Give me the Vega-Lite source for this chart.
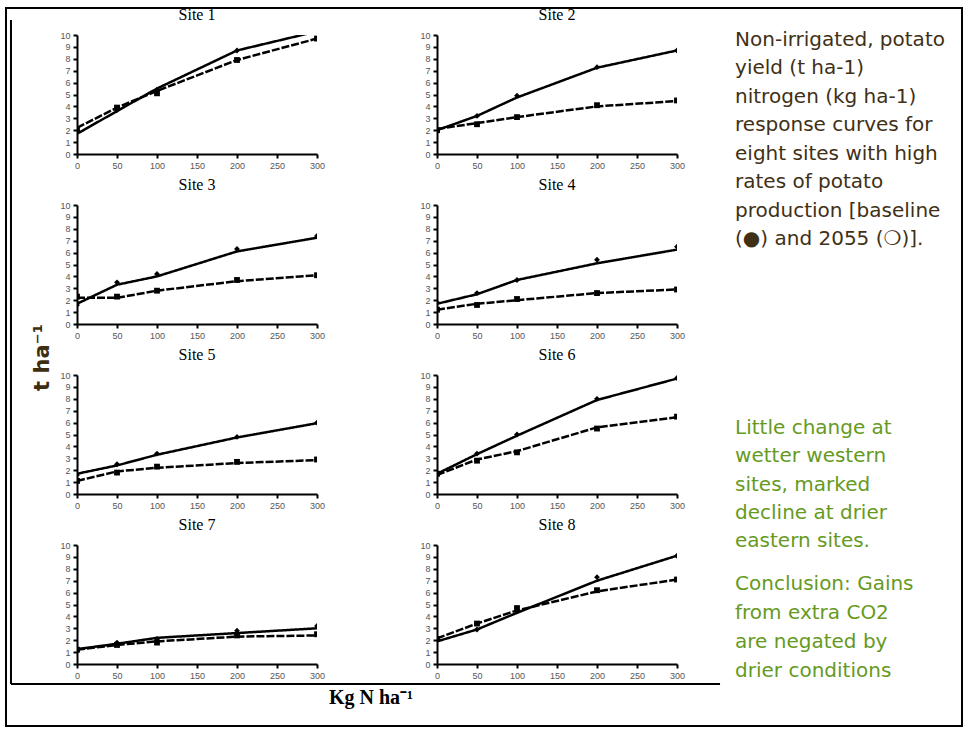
{
  "$schema": "https://vega.github.io/schema/vega-lite/v6.json",
  "padding": {"left": 5, "top": 7, "right": 5, "bottom": 4},
  "background": "white",
  "datasets": {
    "yield": [
      {"site": "Site 1", "scenario": "baseline", "n": 0, "fit": 1.7, "obs": 1.9},
      {"site": "Site 1", "scenario": "baseline", "n": 50, "fit": 3.6, "obs": 3.7},
      {"site": "Site 1", "scenario": "baseline", "n": 100, "fit": 5.5, "obs": 5.4},
      {"site": "Site 1", "scenario": "baseline", "n": 200, "fit": 8.7, "obs": 8.7},
      {"site": "Site 1", "scenario": "baseline", "n": 300, "fit": 10.3, "obs": 10.5},
      {"site": "Site 1", "scenario": "2055", "n": 0, "fit": 2.2, "obs": 2.1},
      {"site": "Site 1", "scenario": "2055", "n": 50, "fit": 3.9, "obs": 3.9},
      {"site": "Site 1", "scenario": "2055", "n": 100, "fit": 5.3, "obs": 5.1},
      {"site": "Site 1", "scenario": "2055", "n": 200, "fit": 7.9, "obs": 7.9},
      {"site": "Site 1", "scenario": "2055", "n": 300, "fit": 9.7, "obs": 9.7},
      {"site": "Site 2", "scenario": "baseline", "n": 0, "fit": 2.0, "obs": 1.9},
      {"site": "Site 2", "scenario": "baseline", "n": 50, "fit": 3.2, "obs": 3.2},
      {"site": "Site 2", "scenario": "baseline", "n": 100, "fit": 4.75, "obs": 4.9},
      {"site": "Site 2", "scenario": "baseline", "n": 200, "fit": 7.25, "obs": 7.3},
      {"site": "Site 2", "scenario": "baseline", "n": 300, "fit": 8.7, "obs": 8.7},
      {"site": "Site 2", "scenario": "2055", "n": 0, "fit": 2.1, "obs": 2.0},
      {"site": "Site 2", "scenario": "2055", "n": 50, "fit": 2.6, "obs": 2.5},
      {"site": "Site 2", "scenario": "2055", "n": 100, "fit": 3.1, "obs": 3.1},
      {"site": "Site 2", "scenario": "2055", "n": 200, "fit": 4.0, "obs": 4.1},
      {"site": "Site 2", "scenario": "2055", "n": 300, "fit": 4.45, "obs": 4.5},
      {"site": "Site 3", "scenario": "baseline", "n": 0, "fit": 1.7, "obs": 1.6},
      {"site": "Site 3", "scenario": "baseline", "n": 50, "fit": 3.3, "obs": 3.5},
      {"site": "Site 3", "scenario": "baseline", "n": 100, "fit": 4.0, "obs": 4.2},
      {"site": "Site 3", "scenario": "baseline", "n": 200, "fit": 6.1, "obs": 6.3},
      {"site": "Site 3", "scenario": "baseline", "n": 300, "fit": 7.25, "obs": 7.4},
      {"site": "Site 3", "scenario": "2055", "n": 0, "fit": 2.2, "obs": 2.3},
      {"site": "Site 3", "scenario": "2055", "n": 50, "fit": 2.2, "obs": 2.3},
      {"site": "Site 3", "scenario": "2055", "n": 100, "fit": 2.8, "obs": 2.8},
      {"site": "Site 3", "scenario": "2055", "n": 200, "fit": 3.6, "obs": 3.7},
      {"site": "Site 3", "scenario": "2055", "n": 300, "fit": 4.1, "obs": 4.1},
      {"site": "Site 4", "scenario": "baseline", "n": 0, "fit": 1.7, "obs": 1.8},
      {"site": "Site 4", "scenario": "baseline", "n": 50, "fit": 2.5, "obs": 2.6},
      {"site": "Site 4", "scenario": "baseline", "n": 100, "fit": 3.7, "obs": 3.7},
      {"site": "Site 4", "scenario": "baseline", "n": 200, "fit": 5.1, "obs": 5.4},
      {"site": "Site 4", "scenario": "baseline", "n": 300, "fit": 6.25, "obs": 6.5},
      {"site": "Site 4", "scenario": "2055", "n": 0, "fit": 1.2, "obs": 1.2},
      {"site": "Site 4", "scenario": "2055", "n": 50, "fit": 1.7, "obs": 1.6},
      {"site": "Site 4", "scenario": "2055", "n": 100, "fit": 2.0, "obs": 2.1},
      {"site": "Site 4", "scenario": "2055", "n": 200, "fit": 2.6, "obs": 2.6},
      {"site": "Site 4", "scenario": "2055", "n": 300, "fit": 2.9, "obs": 2.9},
      {"site": "Site 5", "scenario": "baseline", "n": 0, "fit": 1.7, "obs": 1.6},
      {"site": "Site 5", "scenario": "baseline", "n": 50, "fit": 2.4, "obs": 2.5},
      {"site": "Site 5", "scenario": "baseline", "n": 100, "fit": 3.3, "obs": 3.4},
      {"site": "Site 5", "scenario": "baseline", "n": 200, "fit": 4.75, "obs": 4.8},
      {"site": "Site 5", "scenario": "baseline", "n": 300, "fit": 5.95, "obs": 6.0},
      {"site": "Site 5", "scenario": "2055", "n": 0, "fit": 1.1, "obs": 1.1},
      {"site": "Site 5", "scenario": "2055", "n": 50, "fit": 1.9, "obs": 1.8},
      {"site": "Site 5", "scenario": "2055", "n": 100, "fit": 2.2, "obs": 2.3},
      {"site": "Site 5", "scenario": "2055", "n": 200, "fit": 2.6, "obs": 2.7},
      {"site": "Site 5", "scenario": "2055", "n": 300, "fit": 2.85, "obs": 2.9},
      {"site": "Site 6", "scenario": "baseline", "n": 0, "fit": 1.7, "obs": 1.8},
      {"site": "Site 6", "scenario": "baseline", "n": 50, "fit": 3.35, "obs": 3.4},
      {"site": "Site 6", "scenario": "baseline", "n": 100, "fit": 4.9, "obs": 5.0},
      {"site": "Site 6", "scenario": "baseline", "n": 200, "fit": 7.9, "obs": 8.0},
      {"site": "Site 6", "scenario": "baseline", "n": 300, "fit": 9.7, "obs": 9.75},
      {"site": "Site 6", "scenario": "2055", "n": 0, "fit": 1.6, "obs": 1.7},
      {"site": "Site 6", "scenario": "2055", "n": 50, "fit": 2.9, "obs": 2.8},
      {"site": "Site 6", "scenario": "2055", "n": 100, "fit": 3.6, "obs": 3.5},
      {"site": "Site 6", "scenario": "2055", "n": 200, "fit": 5.6, "obs": 5.5},
      {"site": "Site 6", "scenario": "2055", "n": 300, "fit": 6.45, "obs": 6.5},
      {"site": "Site 7", "scenario": "baseline", "n": 0, "fit": 1.25, "obs": 1.1},
      {"site": "Site 7", "scenario": "baseline", "n": 50, "fit": 1.7, "obs": 1.8},
      {"site": "Site 7", "scenario": "baseline", "n": 100, "fit": 2.2, "obs": 2.1},
      {"site": "Site 7", "scenario": "baseline", "n": 200, "fit": 2.6, "obs": 2.8},
      {"site": "Site 7", "scenario": "baseline", "n": 300, "fit": 3.0, "obs": 3.2},
      {"site": "Site 7", "scenario": "2055", "n": 0, "fit": 1.2, "obs": 1.2},
      {"site": "Site 7", "scenario": "2055", "n": 50, "fit": 1.6, "obs": 1.6},
      {"site": "Site 7", "scenario": "2055", "n": 100, "fit": 1.9, "obs": 1.8},
      {"site": "Site 7", "scenario": "2055", "n": 200, "fit": 2.3, "obs": 2.4},
      {"site": "Site 7", "scenario": "2055", "n": 300, "fit": 2.4, "obs": 2.5},
      {"site": "Site 8", "scenario": "baseline", "n": 0, "fit": 1.9, "obs": 2.0},
      {"site": "Site 8", "scenario": "baseline", "n": 50, "fit": 2.9, "obs": 2.9},
      {"site": "Site 8", "scenario": "baseline", "n": 100, "fit": 4.3, "obs": 4.5},
      {"site": "Site 8", "scenario": "baseline", "n": 200, "fit": 7.0, "obs": 7.3},
      {"site": "Site 8", "scenario": "baseline", "n": 300, "fit": 9.1, "obs": 9.1},
      {"site": "Site 8", "scenario": "2055", "n": 0, "fit": 2.15, "obs": 2.1},
      {"site": "Site 8", "scenario": "2055", "n": 50, "fit": 3.4, "obs": 3.4},
      {"site": "Site 8", "scenario": "2055", "n": 100, "fit": 4.5, "obs": 4.7},
      {"site": "Site 8", "scenario": "2055", "n": 200, "fit": 6.1, "obs": 6.2},
      {"site": "Site 8", "scenario": "2055", "n": 300, "fit": 7.1, "obs": 7.1}
    ]
  },
  "bounds": "flush",
  "spacing": 0,
  "vconcat": [
    {
      "bounds": "flush",
      "spacing": 0,
      "vconcat": [
        {"width": 1, "height": 27, "data": {"values": []}, "mark": "rule", "encoding": {}},
        {
          "bounds": "flush",
          "spacing": 0,
          "hconcat": [
            {"width": 71, "height": 1, "data": {"values": []}, "mark": "rule", "encoding": {}},
            {
              "bounds": "flush",
              "columns": 2,
              "spacing": {"row": 51, "column": 120},
              "concat": [
                {"title": "Site 1", "width": 240, "height": 119, "data": {"name": "yield"}, "transform": [{"filter": "datum.site === 'Site 1'"}],
                 "encoding": {"x": {"field": "n", "type": "quantitative", "title": null, "scale": {"domain": [0, 300], "nice": false}, "axis": {"tickCount": 6}}},
                 "layer": [
                  {"mark": {"type": "line", "clip": true}, "encoding": {"y": {"field": "fit", "type": "quantitative", "title": null, "scale": {"domain": [0, 10], "nice": false}, "axis": {"tickCount": 10}}, "strokeDash": {"field": "scenario", "type": "nominal", "scale": {"domain": ["baseline", "2055"], "range": [[1, 0], [8, 2]]}, "legend": null}}},
                  {"mark": {"type": "point", "clip": true}, "encoding": {"y": {"field": "obs", "type": "quantitative", "title": null}, "shape": {"field": "scenario", "type": "nominal", "scale": {"domain": ["baseline", "2055"], "range": ["diamond", "square"]}, "legend": null}}}
                 ]},
                {"title": "Site 2", "width": 240, "height": 119, "data": {"name": "yield"}, "transform": [{"filter": "datum.site === 'Site 2'"}],
                 "encoding": {"x": {"field": "n", "type": "quantitative", "title": null, "scale": {"domain": [0, 300], "nice": false}, "axis": {"tickCount": 6}}},
                 "layer": [
                  {"mark": {"type": "line", "clip": true}, "encoding": {"y": {"field": "fit", "type": "quantitative", "title": null, "scale": {"domain": [0, 10], "nice": false}, "axis": {"tickCount": 10}}, "strokeDash": {"field": "scenario", "type": "nominal", "scale": {"domain": ["baseline", "2055"], "range": [[1, 0], [8, 2]]}, "legend": null}}},
                  {"mark": {"type": "point", "clip": true}, "encoding": {"y": {"field": "obs", "type": "quantitative", "title": null}, "shape": {"field": "scenario", "type": "nominal", "scale": {"domain": ["baseline", "2055"], "range": ["diamond", "square"]}, "legend": null}}}
                 ]},
                {"title": "Site 3", "width": 240, "height": 119, "data": {"name": "yield"}, "transform": [{"filter": "datum.site === 'Site 3'"}],
                 "encoding": {"x": {"field": "n", "type": "quantitative", "title": null, "scale": {"domain": [0, 300], "nice": false}, "axis": {"tickCount": 6}}},
                 "layer": [
                  {"mark": {"type": "line", "clip": true}, "encoding": {"y": {"field": "fit", "type": "quantitative", "title": null, "scale": {"domain": [0, 10], "nice": false}, "axis": {"tickCount": 10}}, "strokeDash": {"field": "scenario", "type": "nominal", "scale": {"domain": ["baseline", "2055"], "range": [[1, 0], [8, 2]]}, "legend": null}}},
                  {"mark": {"type": "point", "clip": true}, "encoding": {"y": {"field": "obs", "type": "quantitative", "title": null}, "shape": {"field": "scenario", "type": "nominal", "scale": {"domain": ["baseline", "2055"], "range": ["diamond", "square"]}, "legend": null}}}
                 ]},
                {"title": "Site 4", "width": 240, "height": 119, "data": {"name": "yield"}, "transform": [{"filter": "datum.site === 'Site 4'"}],
                 "encoding": {"x": {"field": "n", "type": "quantitative", "title": null, "scale": {"domain": [0, 300], "nice": false}, "axis": {"tickCount": 6}}},
                 "layer": [
                  {"mark": {"type": "line", "clip": true}, "encoding": {"y": {"field": "fit", "type": "quantitative", "title": null, "scale": {"domain": [0, 10], "nice": false}, "axis": {"tickCount": 10}}, "strokeDash": {"field": "scenario", "type": "nominal", "scale": {"domain": ["baseline", "2055"], "range": [[1, 0], [8, 2]]}, "legend": null}}},
                  {"mark": {"type": "point", "clip": true}, "encoding": {"y": {"field": "obs", "type": "quantitative", "title": null}, "shape": {"field": "scenario", "type": "nominal", "scale": {"domain": ["baseline", "2055"], "range": ["diamond", "square"]}, "legend": null}}}
                 ]},
                {"title": "Site 5", "width": 240, "height": 119, "data": {"name": "yield"}, "transform": [{"filter": "datum.site === 'Site 5'"}],
                 "encoding": {"x": {"field": "n", "type": "quantitative", "title": null, "scale": {"domain": [0, 300], "nice": false}, "axis": {"tickCount": 6}}},
                 "layer": [
                  {"mark": {"type": "line", "clip": true}, "encoding": {"y": {"field": "fit", "type": "quantitative", "title": null, "scale": {"domain": [0, 10], "nice": false}, "axis": {"tickCount": 10}}, "strokeDash": {"field": "scenario", "type": "nominal", "scale": {"domain": ["baseline", "2055"], "range": [[1, 0], [8, 2]]}, "legend": null}}},
                  {"mark": {"type": "point", "clip": true}, "encoding": {"y": {"field": "obs", "type": "quantitative", "title": null}, "shape": {"field": "scenario", "type": "nominal", "scale": {"domain": ["baseline", "2055"], "range": ["diamond", "square"]}, "legend": null}}}
                 ]},
                {"title": "Site 6", "width": 240, "height": 119, "data": {"name": "yield"}, "transform": [{"filter": "datum.site === 'Site 6'"}],
                 "encoding": {"x": {"field": "n", "type": "quantitative", "title": null, "scale": {"domain": [0, 300], "nice": false}, "axis": {"tickCount": 6}}},
                 "layer": [
                  {"mark": {"type": "line", "clip": true}, "encoding": {"y": {"field": "fit", "type": "quantitative", "title": null, "scale": {"domain": [0, 10], "nice": false}, "axis": {"tickCount": 10}}, "strokeDash": {"field": "scenario", "type": "nominal", "scale": {"domain": ["baseline", "2055"], "range": [[1, 0], [8, 2]]}, "legend": null}}},
                  {"mark": {"type": "point", "clip": true}, "encoding": {"y": {"field": "obs", "type": "quantitative", "title": null}, "shape": {"field": "scenario", "type": "nominal", "scale": {"domain": ["baseline", "2055"], "range": ["diamond", "square"]}, "legend": null}}}
                 ]},
                {"title": "Site 7", "width": 240, "height": 119, "data": {"name": "yield"}, "transform": [{"filter": "datum.site === 'Site 7'"}],
                 "encoding": {"x": {"field": "n", "type": "quantitative", "title": null, "scale": {"domain": [0, 300], "nice": false}, "axis": {"tickCount": 6}}},
                 "layer": [
                  {"mark": {"type": "line", "clip": true}, "encoding": {"y": {"field": "fit", "type": "quantitative", "title": null, "scale": {"domain": [0, 10], "nice": false}, "axis": {"tickCount": 10}}, "strokeDash": {"field": "scenario", "type": "nominal", "scale": {"domain": ["baseline", "2055"], "range": [[1, 0], [8, 2]]}, "legend": null}}},
                  {"mark": {"type": "point", "clip": true}, "encoding": {"y": {"field": "obs", "type": "quantitative", "title": null}, "shape": {"field": "scenario", "type": "nominal", "scale": {"domain": ["baseline", "2055"], "range": ["diamond", "square"]}, "legend": null}}}
                 ]},
                {"title": "Site 8", "width": 240, "height": 119, "data": {"name": "yield"}, "transform": [{"filter": "datum.site === 'Site 8'"}],
                 "encoding": {"x": {"field": "n", "type": "quantitative", "title": null, "scale": {"domain": [0, 300], "nice": false}, "axis": {"tickCount": 6}}},
                 "layer": [
                  {"mark": {"type": "line", "clip": true}, "encoding": {"y": {"field": "fit", "type": "quantitative", "title": null, "scale": {"domain": [0, 10], "nice": false}, "axis": {"tickCount": 10}}, "strokeDash": {"field": "scenario", "type": "nominal", "scale": {"domain": ["baseline", "2055"], "range": [[1, 0], [8, 2]]}, "legend": null}}},
                  {"mark": {"type": "point", "clip": true}, "encoding": {"y": {"field": "obs", "type": "quantitative", "title": null}, "shape": {"field": "scenario", "type": "nominal", "scale": {"domain": ["baseline", "2055"], "range": ["diamond", "square"]}, "legend": null}}}
                 ]}
              ]
            }
          ]
        }
      ]
    },
    {
      "width": 956,
      "height": 718,
      "view": {"stroke": "black", "strokeWidth": 2},
      "data": {"values": [{}]},
      "layer": [
        {
          "mark": {"type": "rule", "color": "black", "strokeWidth": 2},
          "encoding": {
            "x": {"datum": 0.0052, "type": "quantitative", "scale": {"domain": [0, 1]}, "axis": null},
            "y": {"datum": 0.0167, "type": "quantitative", "scale": {"domain": [0, 1], "reverse": true}, "axis": null},
            "y2": {"datum": 0.9415}
          }
        },
        {
          "mark": {"type": "rule", "color": "black", "strokeWidth": 2},
          "encoding": {
            "x": {"datum": 0.0052, "type": "quantitative", "scale": {"domain": [0, 1]}, "axis": null},
            "x2": {"datum": 0.7469},
            "y": {"datum": 0.9415, "type": "quantitative", "scale": {"domain": [0, 1], "reverse": true}, "axis": null}
          }
        },
        {
          "data": {"values": [{"label": "Non-irrigated, potato\nyield (t ha-1)\nnitrogen (kg ha-1)\nresponse curves for\neight sites with high\nrates of potato\nproduction [baseline\n(●) and 2055 (❍)]."}]},
          "mark": {"type": "text", "align": "left", "baseline": "alphabetic", "font": "DejaVu Sans", "fontSize": 20, "lineBreak": "\n", "lineHeight": 28.5, "color": "#3f3016"},
          "encoding": {
            "x": {"datum": 0.7626, "type": "quantitative"},
            "y": {"datum": 0.0529, "type": "quantitative"},
            "text": {"field": "label", "type": "nominal"}
          }
        },
        {
          "data": {"values": [{"label": "Little change at\nwetter western\nsites, marked\ndecline at drier\neastern sites."}]},
          "mark": {"type": "text", "align": "left", "baseline": "alphabetic", "font": "DejaVu Sans", "fontSize": 20, "lineBreak": "\n", "lineHeight": 28.3, "color": "#669a1e"},
          "encoding": {
            "x": {"datum": 0.7626, "type": "quantitative"},
            "y": {"datum": 0.5933, "type": "quantitative"},
            "text": {"field": "label", "type": "nominal"}
          }
        },
        {
          "data": {"values": [{"label": "Conclusion: Gains\nfrom extra CO2\nare negated by\ndrier conditions"}]},
          "mark": {"type": "text", "align": "left", "baseline": "alphabetic", "font": "DejaVu Sans", "fontSize": 20, "lineBreak": "\n", "lineHeight": 29, "color": "#669a1e"},
          "encoding": {
            "x": {"datum": 0.7626, "type": "quantitative"},
            "y": {"datum": 0.8106, "type": "quantitative"},
            "text": {"field": "label", "type": "nominal"}
          }
        },
        {
          "data": {"values": [{"label": "t ha⁻¹"}]},
          "mark": {"type": "text", "align": "center", "baseline": "middle", "angle": 270, "font": "DejaVu Sans", "fontWeight": "bold", "fontSize": 21, "color": "#3d2e12"},
          "encoding": {
            "x": {"datum": 0.0392, "type": "quantitative"},
            "y": {"datum": 0.4868, "type": "quantitative"},
            "text": {"field": "label", "type": "nominal"}
          }
        },
        {
          "data": {"values": [{"label": "Kg N ha⁻¹"}]},
          "mark": {"type": "text", "align": "center", "baseline": "middle", "font": "Liberation Serif", "fontWeight": "bold", "fontSize": 20, "color": "black"},
          "encoding": {
            "x": {"datum": 0.3818, "type": "quantitative"},
            "y": {"datum": 0.961, "type": "quantitative"},
            "text": {"field": "label", "type": "nominal"}
          }
        }
      ]
    }
  ],
  "config": {
    "view": {"stroke": null},
    "axis": {"grid": false, "domainColor": "black", "domainWidth": 2, "tickColor": "black", "tickWidth": 2, "tickSize": 4, "labelFont": "Liberation Sans", "labelFontSize": 9, "labelColor": "#555555", "labelPadding": 3, "labelFlush": false, "labelOverlap": false, "labelBound": false},
    "title": {"font": "Liberation Serif", "fontSize": 16, "fontWeight": "normal", "color": "black", "frame": "group", "baseline": "alphabetic", "offset": 8, "anchor": "middle"},
    "line": {"color": "black", "strokeWidth": 2.5},
    "point": {"color": "black", "filled": true, "size": 34, "opacity": 1}
  }
}
